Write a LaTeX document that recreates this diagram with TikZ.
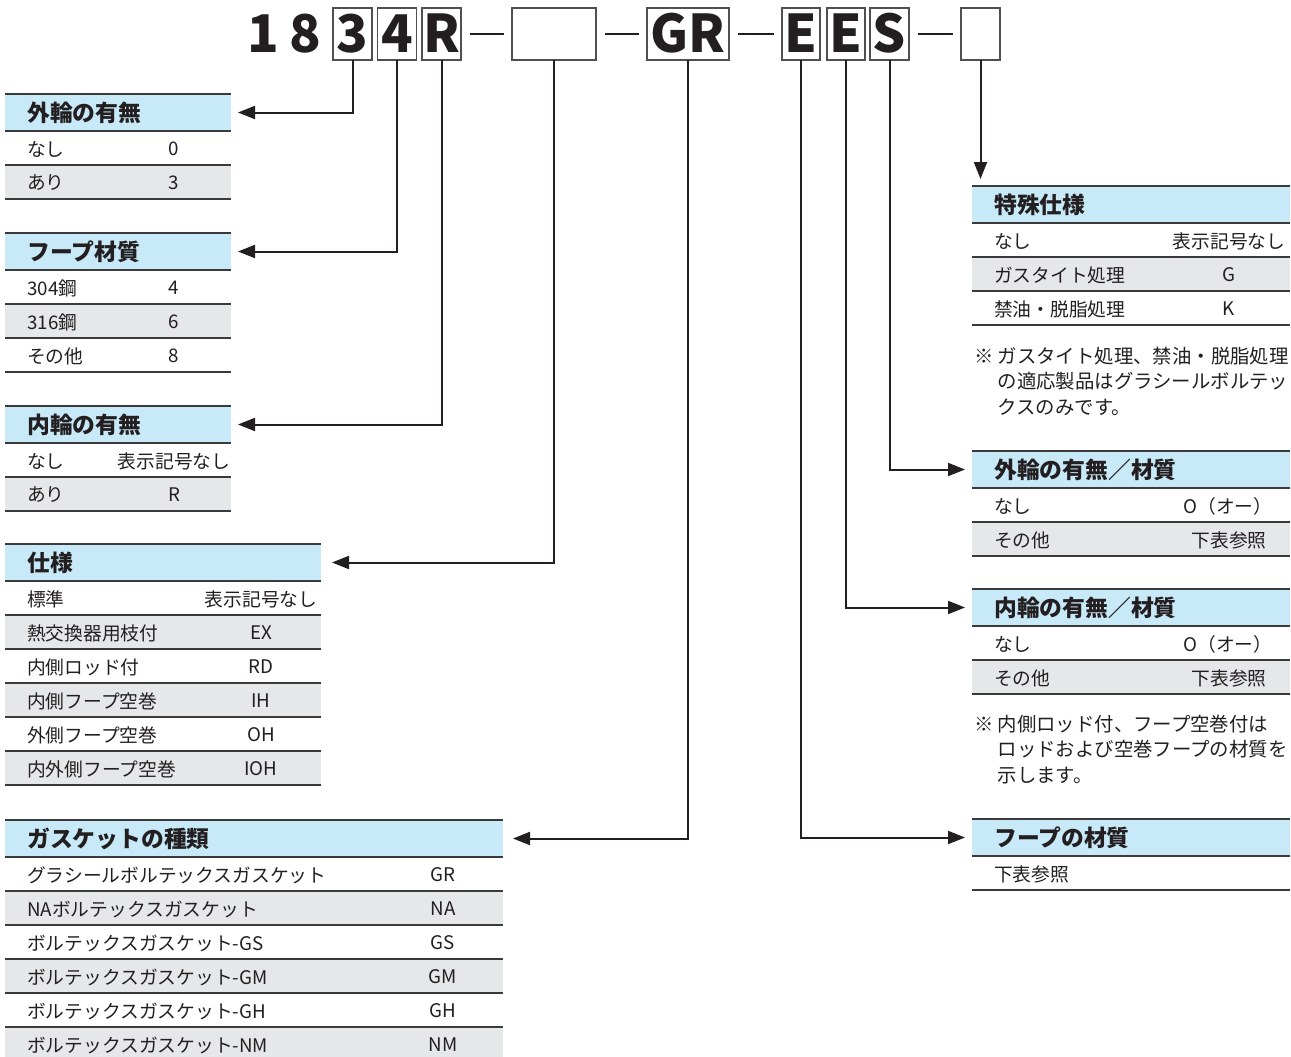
\documentclass[tikz,border=0pt]{standalone}
\usepackage{fontspec}
\setmainfont{Noto Sans CJK JP}
\usetikzlibrary{arrows.meta}
\definecolor{hdrblue}{HTML}{C8E9F8}
\definecolor{rowgray}{HTML}{E6E7E8}
\definecolor{ink}{HTML}{231F20}
\definecolor{rulec}{HTML}{3A3A3A}
\definecolor{boxc}{HTML}{505050}
\pgfdeclarelayer{fg}
\pgfsetlayers{main,fg}
\tikzset{
  hdrbox/.style={anchor=north west, fill=hdrblue, minimum height=37pt, inner sep=0pt, outer sep=0pt},
  rowbox/.style={anchor=north west, minimum height=34pt, inner sep=0pt, outer sep=0pt},
  hdrtxt/.style={anchor=west, inner sep=0pt, text=ink, font=\bfseries\fontsize{22.8}{27}\selectfont},
  rowtxt/.style={anchor=west, inner sep=0pt, text=ink, font=\fontsize{18.75}{22}\selectfont},
  valtxt/.style={anchor=center, inner sep=0pt, text=ink, font=\fontsize{18.75}{22}\selectfont},
  notetxt/.style={anchor=north west, inner sep=0pt, text=ink, font=\fontsize{19.4}{25.5}\selectfont},
  tabrule/.style={draw=rulec, line width=1.6pt},
  codech/.style={inner sep=0pt, outer sep=0pt, text=ink, font=\bfseries\fontsize{52}{52}\selectfont, text height=38pt, text depth=0pt, minimum height=52pt},
  codebox/.style={codech, draw=boxc, line width=1.1pt},
  codedash/.style={draw=ink, line width=2.2pt, shorten <=9pt, shorten >=8pt},
  conn/.style={draw=ink, line width=2pt, -{Triangle[length=17pt,width=13pt]}}
}
\newcommand\tabhead[5]{%
  \node[hdrbox, minimum width=#4pt] (#1) at (#2,#3) {};
  \node[hdrtxt] (#1t) at (#2+22,#3+19) {#5};
  \begin{pgfonlayer}{fg}
    \draw[tabrule] (#1.north west) -- (#1.north east);
    \draw[tabrule] (#1.south west) -- (#1.south east);
  \end{pgfonlayer}}
\newcommand\tabrow[8]{%
  \node[rowbox, fill=#5, minimum width=#4pt] (#1) at (#2,#3) {};
  \node[rowtxt] (#1l) at (#2+22,#3+18) {#6};
  \node[valtxt] (#1v) at (#7,#3+18) {#8};
  \begin{pgfonlayer}{fg}
    \draw[tabrule] (#1.south west) -- (#1.south east);
  \end{pgfonlayer}}
\begin{document}
\begin{tikzpicture}[x=1pt,y=-1pt]
\useasboundingbox[fill=white] (0,0) rectangle (1291,1057);
% ---- code line ----
\node[codech] (c1) at (263,34) {1};
\node[codech] (c8) at (305,34) {8};
\node[codebox, minimum width=39pt] (b3) at (352.5,34) {3};
\node[codebox, minimum width=39pt] (b4) at (397,34) {4};
\node[codebox, minimum width=39pt] (bR) at (441.5,34) {R};
\node[codebox, minimum width=84pt] (bE) at (554,34) {};
\node[codebox, minimum width=82pt] (bGR) at (688,34) {GR};
\node[codebox, minimum width=38pt] (bE1) at (801,34) {E};
\node[codebox, minimum width=38pt] (bE2) at (846,34) {E};
\node[codebox, minimum width=39pt] (bS) at (889.5,34) {S};
\node[codebox, minimum width=39pt] (bX) at (980.5,34) {};
\draw[codedash] (bR.east) -- (bE.west);
\draw[codedash] (bE.east) -- (bGR.west);
\draw[codedash] (bGR.east) -- (bE1.west);
\draw[codedash] (bS.east) -- (bX.west);
% ---- left tables ----
\tabhead{t1}{5}{94}{226}{外輪の有無}
\tabrow{t1a}{5}{131}{226}{white}{なし}{174}{0}
\tabrow{t1b}{5}{165}{226}{rowgray}{あり}{174}{3}
\tabhead{t2}{5}{233}{226}{フープ材質}
\tabrow{t2a}{5}{270}{226}{white}{304鋼}{174}{4}
\tabrow{t2b}{5}{304}{226}{rowgray}{316鋼}{174}{6}
\tabrow{t2c}{5}{338}{226}{white}{その他}{174}{8}
\tabhead{t3}{5}{406}{226}{内輪の有無}
\tabrow{t3a}{5}{443}{226}{white}{なし}{174}{表示記号なし}
\tabrow{t3b}{5}{477}{226}{rowgray}{あり}{174}{R}
\tabhead{t4}{5}{544}{316}{仕様}
\tabrow{t4a}{5}{581}{316}{white}{標準}{261}{表示記号なし}
\tabrow{t4b}{5}{615}{316}{rowgray}{熱交換器用枝付}{261}{EX}
\tabrow{t4c}{5}{649}{316}{white}{内側ロッド付}{261}{RD}
\tabrow{t4d}{5}{683}{316}{rowgray}{内側フープ空巻}{261}{IH}
\tabrow{t4e}{5}{717}{316}{white}{外側フープ空巻}{261}{OH}
\tabrow{t4f}{5}{751}{316}{rowgray}{内外側フープ空巻}{261}{IOH}
\tabhead{t5}{5}{820}{498}{ガスケットの種類}
\tabrow{t5a}{5}{857}{498}{white}{グラシールボルテックスガスケット}{443}{GR}
\tabrow{t5b}{5}{891}{498}{rowgray}{NAボルテックスガスケット}{443}{NA}
\tabrow{t5c}{5}{925}{498}{white}{ボルテックスガスケット-GS}{443}{GS}
\tabrow{t5d}{5}{959}{498}{rowgray}{ボルテックスガスケット-GM}{443}{GM}
\tabrow{t5e}{5}{993}{498}{white}{ボルテックスガスケット-GH}{443}{GH}
\tabrow{t5f}{5}{1027}{498}{rowgray}{ボルテックスガスケット-NM}{443}{NM}
% ---- right tables ----
\tabhead{t6}{972}{186}{318}{特殊仕様}
\tabrow{t6a}{972}{223}{318}{white}{なし}{1229}{表示記号なし}
\tabrow{t6b}{972}{257}{318}{rowgray}{ガスタイト処理}{1229}{G}
\tabrow{t6c}{972}{291}{318}{white}{禁油・脱脂処理}{1229}{K}
\node[notetxt] (n1) at (974,345) {\begin{tabular}{@{}l@{\hspace{4pt}}l@{}}※&ガスタイト処理、禁油・脱脂処理\\&の適応製品はグラシールボルテッ\\&クスのみです。\end{tabular}};
\tabhead{t7}{972}{451}{318}{外輪の有無／材質}
\tabrow{t7a}{972}{488}{318}{white}{なし}{1228}{O（オー）}
\tabrow{t7b}{972}{522}{318}{rowgray}{その他}{1229}{下表参照}
\tabhead{t8}{972}{589}{318}{内輪の有無／材質}
\tabrow{t8a}{972}{626}{318}{white}{なし}{1228}{O（オー）}
\tabrow{t8b}{972}{660}{318}{rowgray}{その他}{1229}{下表参照}
\node[notetxt] (n2) at (974,713) {\begin{tabular}{@{}l@{\hspace{4pt}}l@{}}※&内側ロッド付、フープ空巻付は\\&ロッドおよび空巻フープの材質を\\&示します。\end{tabular}};
\tabhead{t9}{972}{819}{318}{フープの材質}
\tabrow{t9a}{972}{856}{318}{white}{下表参照}{1229}{}
% ---- connectors ----
\draw[conn, shorten >=7pt] (b3.south) |- (t1.east);
\draw[conn, shorten >=7pt] (b4.south) |- (t2.east);
\draw[conn, shorten >=7pt] (bR.south) |- (t3.east);
\draw[conn, shorten >=11pt] (bE.south) |- (t4.east);
\draw[conn, shorten >=10pt] (bGR.south) |- (t5.east);
\draw[conn, shorten >=7pt] (bE1.south) |- (t9.west);
\draw[conn, shorten >=7pt] (bE2.south) |- (t8.west);
\draw[conn, shorten >=7pt] (bS.south) |- (t7.west);
\draw[conn, shorten >=7pt] (bX.south) -- (bX.south |- t6.north);
\end{tikzpicture}
\end{document}
